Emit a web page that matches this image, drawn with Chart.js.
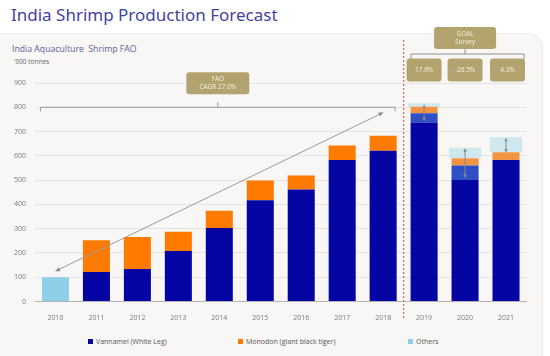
<!DOCTYPE html>
<html><head><meta charset="utf-8">
<script src="https://cdn.jsdelivr.net/npm/chart.js@4/dist/chart.umd.min.js"></script>
<style>
body{margin:0;width:550px;height:356px;overflow:hidden;background:#fff;font-family:"Open Sans",sans-serif;position:relative;}
#panel{position:absolute;left:0;top:33px;width:542px;height:323px;background:#f8f7f5;border-top-right-radius:14px;border-top:1px solid #efeeea;border-right:1px solid #efeeea;}
#title{position:absolute;left:11px;top:3px;font-size:17px;color:#4444a0;font-family:"Noto Sans",sans-serif;font-weight:400;white-space:nowrap;}
#sub{position:absolute;left:12px;top:43px;font-size:8.7px;color:#60609a;white-space:nowrap;}
#unit{position:absolute;left:14px;top:57px;font-size:6.5px;color:#666;white-space:nowrap;}
#legend{position:absolute;left:0;top:337px;width:550px;height:12px;font-size:7px;color:#555;}
#legend span{position:absolute;white-space:nowrap;line-height:10px;}
#legend i{display:inline-block;width:5px;height:5px;margin-right:3px;vertical-align:0px;}
canvas{position:absolute;left:0;top:0;}
</style></head>
<body>
<div id="panel"></div>
<div id="title">India Shrimp Production Forecast</div>
<div id="sub">India Aquaculture&nbsp; Shrimp FAO</div>
<div id="unit">'000 tonnes</div>
<div id="legend"></div>
<canvas id="c" width="550" height="356"></canvas>
<script>
const years = ['2010','2011','2012','2013','2014','2015','2016','2017','2018','2019','2020','2021'];
const vannamei = [null,121,134,208,303,417,461,583,621,737,500,583];
const vannameiRange = [null,null,null,null,null,null,null,null,null,38,60,null];
const monodon = [null,131,132,79,71,81,58,60,62,27,30,32];
const others = [100,null,null,null,null,null,null,null,null,null,null,null];
const bandLow = [null,null,null,null,null,null,null,null,null,802,590,615];
const bandHigh = [null,null,null,null,null,null,null,null,null,817,633,677];
const arrowHigh = [null,null,null,null,null,null,null,null,null,812,632,675];
const arrowLow = [null,null,null,null,null,null,null,null,null,742,508,612];
const seriesNames = ['Vannamei (White Leg)','Monodon (giant black tiger)','Others'];
const seriesColors = ['#0505a3','#ff7a00','#8dcfe9'];
const yTicks = [0,100,200,300,400,500,600,700,800,900];
const faoText = ['FAO','CAGR 27.0%'];
const faoArrow = {fromIndex:0, fromValue:125, toIndex:8, toValue:778};
const faoBracketValue = 800;
const goalText = ['GOAL','Survey'];
const goalGrowth = ['17.6%','-26.5%','4.3%'];
const forecastStart = 9;

const monodonColors = years.map((y,i)=> i>=forecastStart ? '#f39441' : seriesColors[1]);

const lg = document.getElementById('legend');
const legX = [88, 238, 408];
seriesNames.forEach((n,i)=>{
  const s=document.createElement('span');
  s.style.left=legX[i]+'px';
  s.innerHTML='<i style="background:'+seriesColors[i]+'"></i>'+n;
  lg.appendChild(s);
});

const GOLD = '#b3a46f';
function box(ctx,cx,top,w,h,lines){
  ctx.save();
  ctx.fillStyle=GOLD;
  ctx.beginPath();
  ctx.roundRect(cx-w/2,top,w,h,3);
  ctx.fill();
  ctx.fillStyle='#f4f0e2';
  ctx.font='6.5px "Open Sans"';
  ctx.textAlign='center';ctx.textBaseline='middle';
  const lh=8.5;
  const start=top+h/2-(lines.length-1)*lh/2;
  lines.forEach((t,i)=>ctx.fillText(t,cx,start+i*lh));
  ctx.restore();
}
function arrowHead(ctx,x1,y1,x2,y2,size){
  const a=Math.atan2(y2-y1,x2-x1);
  ctx.beginPath();
  ctx.moveTo(x2,y2);
  ctx.lineTo(x2-size*Math.cos(a-0.45),y2-size*Math.sin(a-0.45));
  ctx.lineTo(x2-size*Math.cos(a+0.45),y2-size*Math.sin(a+0.45));
  ctx.closePath();ctx.fill();
}
const annot = {
  id:'annot',
  afterDatasetsDraw(chart){
    const ctx=chart.ctx, x=chart.scales.x, y=chart.scales.y;
    ctx.save();
    ctx.strokeStyle='#8a8a8a';ctx.fillStyle='#8a8a8a';ctx.lineWidth=1;
    arrowHigh.forEach((h,i)=>{
      if(h==null) return;
      const px=x.getPixelForValue(i), y1=y.getPixelForValue(h), y2=y.getPixelForValue(arrowLow[i]);
      ctx.beginPath();ctx.moveTo(px,y1+2);ctx.lineTo(px,y2-2);ctx.stroke();
      arrowHead(ctx,px,y2,px,y1,4);
      arrowHead(ctx,px,y1,px,y2,4);
    });
    ctx.restore();
  },
  afterDraw(chart){
    const ctx=chart.ctx, x=chart.scales.x, y=chart.scales.y;
    ctx.save();
    ctx.strokeStyle='#9a9a9a';ctx.fillStyle='#8a8a8a';ctx.lineWidth=1;
    const ax1=x.getPixelForValue(faoArrow.fromIndex), ay1=y.getPixelForValue(faoArrow.fromValue);
    const ax2=x.getPixelForValue(faoArrow.toIndex), ay2=y.getPixelForValue(faoArrow.toValue);
    ctx.beginPath();ctx.moveTo(ax1,ay1);ctx.lineTo(ax2,ay2);ctx.stroke();
    arrowHead(ctx,ax2,ay2,ax1,ay1,5);
    arrowHead(ctx,ax1,ay1,ax2,ay2,5);
    const by=y.getPixelForValue(faoBracketValue);
    const bl=x.getPixelForValue(0)-15, br=x.getPixelForValue(8)+12;
    ctx.strokeStyle='#9a9a9a';
    ctx.beginPath();ctx.moveTo(bl,by+4);ctx.lineTo(bl,by);ctx.lineTo(br,by);ctx.lineTo(br,by+4);ctx.stroke();
    const bc=(bl+br)/2;
    ctx.beginPath();ctx.moveTo(bc,by);ctx.lineTo(bc,by-5);ctx.stroke();
    box(ctx,bc,by-35,63,22,faoText);
    const dx=(x.getPixelForValue(forecastStart-1)+x.getPixelForValue(forecastStart))/2;
    ctx.strokeStyle='#d96a6a';ctx.lineWidth=1.3;ctx.setLineDash([2,2]);
    ctx.beginPath();ctx.moveTo(dx,40);ctx.lineTo(dx,318);ctx.stroke();
    ctx.setLineDash([]);
    const gx=x.getPixelForValue(forecastStart+1);
    box(ctx,gx,27,62,22,goalText);
    const gl=x.getPixelForValue(forecastStart)-13, gr=x.getPixelForValue(forecastStart+2)+18;
    ctx.strokeStyle='#8f8f8f';ctx.lineWidth=1;
    ctx.beginPath();ctx.moveTo(gx,49);ctx.lineTo(gx,54);ctx.stroke();
    ctx.beginPath();ctx.moveTo(gl,59);ctx.lineTo(gl,54);ctx.lineTo(gr,54);ctx.lineTo(gr,59);ctx.stroke();
    goalGrowth.forEach((t,i)=>{
      const cx=x.getPixelForValue(forecastStart+i)+(i==2?1.5:0);
      box(ctx,cx,58.5,35,23,[t]);
    });
    ctx.restore();
  }
};

new Chart(document.getElementById('c'),{
  type:'bar',
  data:{
    labels:years,
    datasets:[
      {label:seriesNames[0],data:vannamei,backgroundColor:seriesColors[0],stack:'s',order:1},
      {label:'Vannamei range',data:vannameiRange,backgroundColor:'#2f4fc4',stack:'s',order:1},
      {label:seriesNames[1],data:monodon,backgroundColor:monodonColors,stack:'s',order:1},
      {label:seriesNames[2],data:others,backgroundColor:seriesColors[2],stack:'s',order:1},
      {label:'Range',data:bandLow.map((l,i)=>l==null?null:[l,bandHigh[i]]),backgroundColor:'rgba(190,225,238,0.7)',
       yAxisID:'y2',grouped:false,order:5,barPercentage:0.79,categoryPercentage:1}
    ]
  },
  options:{
    responsive:false,animation:false,
    layout:{padding:{left:0,top:83,right:23.5,bottom:0}},
    datasets:{bar:{barPercentage:0.66,categoryPercentage:1}},
    plugins:{legend:{display:false},tooltip:{enabled:false},title:{display:false}},
    scales:{
      x:{stacked:true,grid:{display:false},border:{color:'#b3b3b3'},
        ticks:{color:'#7a7a7a',font:{size:7,family:'"Open Sans"'},padding:4},
        afterFit(s){s.height=54.5;}},
      y:{stacked:true,min:0,max:900,
        afterBuildTicks(s){s.ticks=yTicks.map(v=>({value:v}));},
        grid:{color:'#e6e4df',drawTicks:false},border:{display:false},
        ticks:{color:'#7a7a7a',font:{size:7,family:'"Open Sans"'},padding:9},
        afterFit(s){s.width=35;}},
      y2:{display:false,min:0,max:900,stacked:false}
    }
  },
  plugins:[annot]
});
</script>
</body></html>
